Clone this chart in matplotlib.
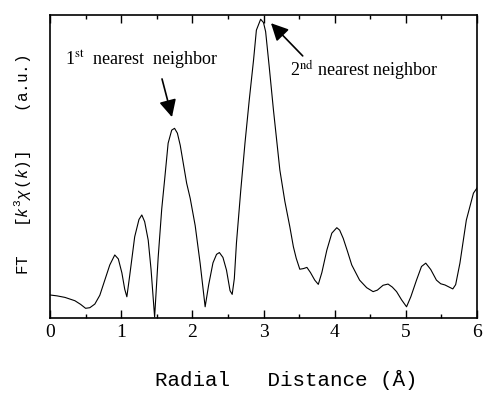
import matplotlib
matplotlib.use("Agg")
import matplotlib.pyplot as plt
from matplotlib.ticker import MultipleLocator

# mono font for mathtext in the y label (Courier look)
plt.rcParams['mathtext.fontset'] = 'custom'
plt.rcParams['mathtext.rm'] = 'Liberation Mono'
plt.rcParams['mathtext.it'] = 'Liberation Mono:italic'
plt.rcParams['mathtext.bf'] = 'Liberation Mono:bold'

# radial distance (A) and FT magnitude (a.u.)
r = [0.00, 0.10, 0.21, 0.35, 0.43, 0.50, 0.56, 0.63, 0.70, 0.77,
     0.84, 0.91, 0.96, 1.01, 1.05, 1.08, 1.12, 1.19, 1.25, 1.29,
     1.33, 1.38, 1.42, 1.47, 1.52, 1.57, 1.61, 1.66, 1.71, 1.75,
     1.79, 1.83, 1.92, 1.97, 2.04, 2.11, 2.18, 2.23, 2.29, 2.34,
     2.38, 2.43, 2.48, 2.53, 2.56, 2.59, 2.62, 2.68, 2.74, 2.80,
     2.86, 2.90, 2.96, 3.00, 3.03, 3.08, 3.14, 3.23, 3.30, 3.37,
     3.42, 3.46, 3.51, 3.56, 3.61, 3.66, 3.72, 3.77, 3.82, 3.89,
     3.96, 4.03, 4.07, 4.12, 4.18, 4.24, 4.35, 4.45, 4.54, 4.60,
     4.68, 4.75, 4.81, 4.87, 4.94, 5.01, 5.07, 5.15, 5.22, 5.28,
     5.35, 5.43, 5.49, 5.55, 5.66, 5.70, 5.76, 5.85, 5.95, 6.00]
ft = [0.076, 0.073, 0.068, 0.057, 0.045, 0.032, 0.034, 0.046, 0.075, 0.125,
      0.175, 0.208, 0.195, 0.149, 0.095, 0.070, 0.140, 0.268, 0.325, 0.340,
      0.318, 0.257, 0.160, 0.003, 0.200, 0.360, 0.455, 0.577, 0.620, 0.626,
      0.610, 0.570, 0.445, 0.395, 0.305, 0.180, 0.037, 0.110, 0.182, 0.210,
      0.216, 0.200, 0.158, 0.090, 0.078, 0.130, 0.248, 0.420, 0.578, 0.720,
      0.851, 0.950, 0.986, 0.975, 0.945, 0.830, 0.686, 0.488, 0.385, 0.301,
      0.235, 0.197, 0.161, 0.163, 0.167, 0.150, 0.125, 0.111, 0.150, 0.224,
      0.280, 0.298, 0.290, 0.263, 0.220, 0.175, 0.125, 0.100, 0.087, 0.092,
      0.108, 0.112, 0.102, 0.087, 0.060, 0.037, 0.070, 0.125, 0.170, 0.181,
      0.160, 0.125, 0.113, 0.109, 0.096, 0.110, 0.181, 0.323, 0.412, 0.429]

# annotations: text anchor, arrow tail, arrow tip (data coords)
lbl1 = r"1$^{\mathrm{st}}$  nearest  neighbor"
lbl1_xy = (0.21, 0.835)
arr1_tail = (1.574, 0.789)
arr1_tip = (1.714, 0.663)

lbl2 = r"2$^{\mathrm{nd}}$ nearest neighbor"
lbl2_xy = (3.37, 0.799)
arr2_tail = (3.551, 0.865)
arr2_tip = (3.105, 0.973)

W, H = 483, 393
fig = plt.figure(figsize=(W/100, H/100), dpi=100)
ax = fig.add_axes([50/W, 1-318/H, 427/W, 303/H])

ax.plot(r, ft, 'k-', linewidth=0.8)

ax.set(xlim=(0, 6), ylim=(0, 1))
ax.xaxis.set_major_locator(MultipleLocator(1))
ax.xaxis.set_minor_locator(MultipleLocator(0.5))
ax.tick_params(axis='x', which='both', direction='in', top=True, bottom=True,
               width=1.0, pad=4, labelsize=14)
ax.tick_params(axis='x', which='major', length=5.5)
ax.tick_params(axis='x', which='minor', length=3)
ax.tick_params(axis='y', which='both', left=False, right=False, labelleft=False)
for lab in ax.get_xticklabels():
    lab.set_fontfamily('Liberation Serif')
for sp in ax.spines.values():
    sp.set_linewidth(1.2)

tprops = dict(fontfamily='Liberation Serif', math_fontfamily='stix', fontsize=13,
              ha='left', va='baseline')
ax.text(*lbl1_xy, lbl1, **tprops)
ax.text(*lbl2_xy, lbl2, **tprops)

aprops = dict(arrowstyle='-|>,head_length=0.8,head_width=0.4', mutation_scale=13,
              color='k', lw=1.2, shrinkA=0, shrinkB=0)
ax.annotate('', xy=arr1_tip, xytext=arr1_tail, arrowprops=aprops)
ax.annotate('', xy=arr2_tip, xytext=arr2_tail, arrowprops=aprops)

fig.text(286/W, 1-380/H, "Radial   Distance (Å)", fontfamily='Liberation Mono',
         fontsize=15, ha='center', va='center')
fig.text(23/W, 1-165/H, r"FT   [$k^{3}\chi\,(k)$]    (a.u.)", fontfamily='Liberation Mono',
         math_fontfamily='custom', fontsize=11.5, rotation=90, ha='center', va='center')

fig.savefig('out.png', dpi=100)
